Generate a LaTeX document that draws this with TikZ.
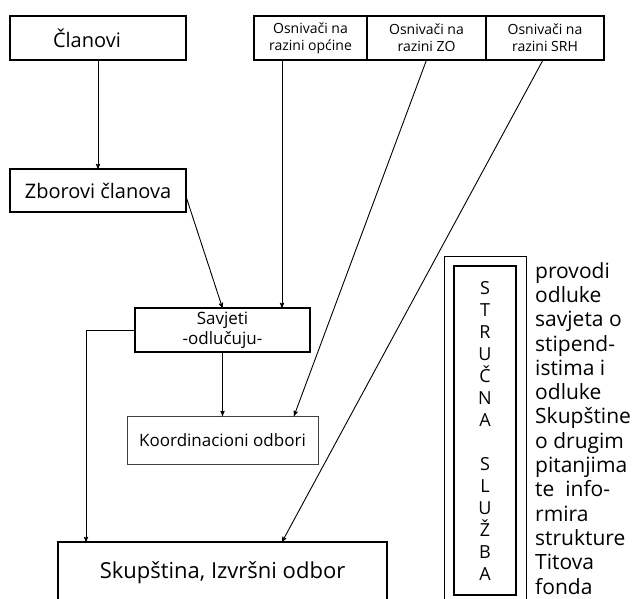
\documentclass[tikz,border=0pt]{standalone}
\usepackage{fontspec}
\setmainfont{Open Sans}
\usepackage{tikz}
\usetikzlibrary{arrows,positioning}
\tikzset{
  font={\fontsize{17pt}{20pt}\selectfont}
}
\tikzstyle{line}=[draw, -stealth', line width=0.9pt]
\tikzstyle{box}=[rectangle, draw, line width=2pt, outer sep=0pt, inner sep=0pt]
\tikzstyle{thinbox}=[box, line width=0.9pt, draw=black!75]
\tikzstyle{osn}=[box, minimum height=44pt, align=center, font=\fontsize{14pt}{17pt}\selectfont]
\tikzstyle{big}=[font=\fontsize{20pt}{24pt}\selectfont]

\begin{document}
\begin{tikzpicture}[x=1pt, y=-1pt]
\useasboundingbox (0,0) rectangle (637,599);

\node[box,big,minimum width=176pt,minimum height=44pt,text width=90pt,align=left] (clanovi) at (98,38) {Članovi};
\node[box,big,minimum width=176pt,minimum height=43pt] (zborovi) at (98,190.5) {Zborovi članova};

\node[osn,minimum width=113pt] (osn_opc) at (310.5,38) {Osnivači na\\razini općine};
\node[osn,minimum width=119pt,right=0pt of osn_opc] (osn_zo) {Osnivači na\\razini ZO};
\node[osn,minimum width=118pt,right=0pt of osn_zo] (osn_srh) {Osnivači na\\razini SRH};

\node[box,minimum width=175pt,minimum height=44pt,align=center] (savjeti) at (222.5,330) {Savjeti\\-odlučuju-};
\node[thinbox,minimum width=191pt,minimum height=48pt] (koord) at (222.5,440) {Koordinacioni odbori};
\node[box,anchor=north,minimum width=329pt,inner ysep=20pt,text height=16pt,text depth=60pt,font=\fontsize{22pt}{26pt}\selectfont] (skup) at (222.5,542) {Skupština, Izvršni odbor};

%%% Strucna sluzba
\node[thinbox,draw=black,anchor=north,minimum width=82pt,minimum height=400pt] (sluzba_out) at (485,256) {};
\node[box,minimum width=62pt,minimum height=329pt,align=center,font=\fontsize{18pt}{22pt}\selectfont] (sluzba) at (485,430.5) {S\\T\\R\\U\\Č\\N\\A\\[22pt]S\\L\\U\\Ž\\B\\A};
\node[anchor=north west,inner sep=0pt,align=left,font=\fontsize{21pt}{24.3pt}\selectfont] (opis) at (535,262) {provodi\\odluke\\savjeta o\\stipend-\\istima i\\odluke\\Skupštine\\o drugim\\pitanjima\\te~ info-\\rmira\\strukture\\Titova\\fonda};

\draw[line] (clanovi) -- (zborovi);
\draw[line] ([yshift=-6pt]zborovi.east) -- (savjeti.north);
\draw[line] ([xshift=-28.5pt]osn_opc.south) -- ([xshift=-28.5pt]osn_opc.south |- savjeti.north);
\draw[line] (savjeti) -- (koord);
\draw[line] (osn_zo.south) -- ([xshift=71.5pt]koord.north);
\draw[line] ([xshift=-2pt]osn_srh.south) -- ([xshift=59.5pt]skup.north);
\draw[line] (savjeti.west) -| ([xshift=28pt]skup.north west);

\end{tikzpicture}
\end{document}
